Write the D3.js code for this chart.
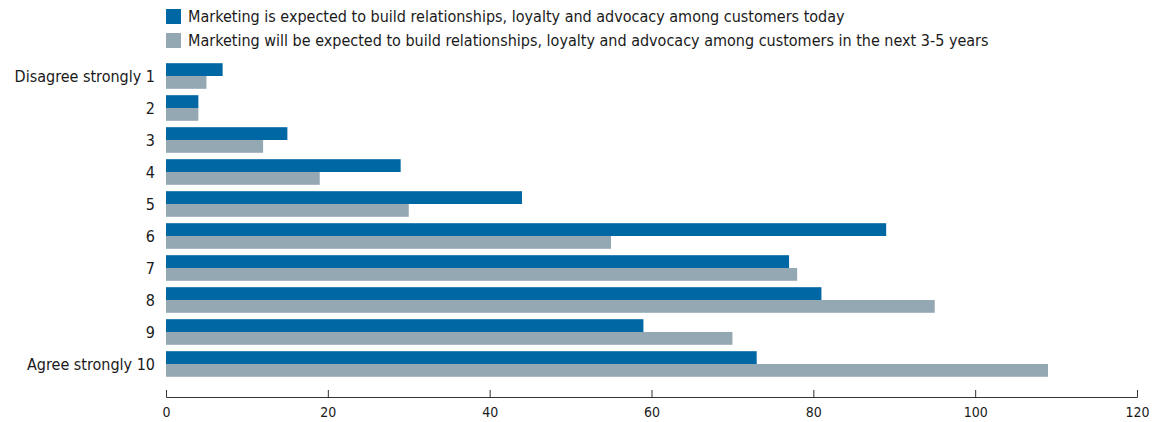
<!DOCTYPE html>
<html>
<head>
<meta charset="utf-8">
<script src="https://cdn.jsdelivr.net/npm/d3@7"></script>
<style>
  body { margin: 0; background: #fff; }
  svg text { font-family: 'DejaVu Sans Condensed', 'Liberation Sans Narrow', sans-serif; fill: #1a1a1a; }
</style>
</head>
<body>
<div id="chart"></div>
<script>
// Chart data
const categories = ['Disagree strongly 1', '2', '3', '4', '5', '6', '7', '8', '9', 'Agree strongly 10'];
const seriesNames = [
  'Marketing is expected to build relationships, loyalty and advocacy among customers today',
  'Marketing will be expected to build relationships, loyalty and advocacy among customers in the next 3-5 years'
];
const todayValues = [7, 4, 15, 29, 44, 89, 77, 81, 59, 73];
const futureValues = [5, 4, 12, 19, 30, 55, 78, 95, 70, 109];
const xTicks = [0, 20, 40, 60, 80, 100, 120];
const colors = ['#0067a5', '#94a8b3'];

const w = 1162;
const h = 422;

const svg = d3.select('#chart')
  .append('svg')
  .attr('width', w)
  .attr('height', h);

const rows = categories.map((c, i) => ({ cat: c, values: [todayValues[i], futureValues[i]] }));

const xscale = d3.scaleLinear().domain([0, 120]).range([166, 1137]);
const yscale = d3.scaleBand()
  .domain(categories)
  .range([60, 380])
  .paddingInner(0.2)
  .paddingOuter(0.1);
const inner = d3.scaleBand()
  .domain([0, 1])
  .range([0, yscale.bandwidth()]);

// Bars
const groups = svg.selectAll('g.row')
  .data(rows)
  .enter()
  .append('g')
  .attr('class', 'row')
  .attr('transform', (d) => 'translate(0,' + yscale(d.cat) + ')');

groups.selectAll('rect')
  .data((d) => d.values)
  .enter()
  .append('rect')
  .attr('x', xscale(0))
  .attr('y', (d, i) => inner(i))
  .attr('width', (d) => xscale(d) - xscale(0))
  .attr('height', inner.bandwidth())
  .attr('fill', (d, i) => colors[i]);

// Category labels
svg.selectAll('text.cat')
  .data(categories)
  .enter()
  .append('text')
  .attr('class', 'cat')
  .attr('x', 155)
  .attr('y', (d) => yscale(d) + yscale.bandwidth() / 2)
  .attr('dy', '0.35em')
  .attr('text-anchor', 'end')
  .style('font-size', '16px')
  .text((d) => d);

// X axis, ticks pointing up
const xAxis = d3.axisBottom(xscale)
  .tickValues(xTicks)
  .tickSizeInner(-7)
  .tickSizeOuter(-7)
  .tickPadding(10);
const axisG = svg.append('g')
  .attr('transform', 'translate(0,397)')
  .call(xAxis);
axisG.selectAll('path, line').attr('stroke', '#333');
axisG.selectAll('text')
  .style('font-size', '14px')
  .attr('fill', '#1a1a1a');

// Legend
const legend = svg.selectAll('g.legend')
  .data(seriesNames)
  .enter()
  .append('g')
  .attr('class', 'legend')
  .attr('transform', (d, i) => 'translate(166,' + (9 + i * 24) + ')');
legend.append('rect')
  .attr('width', 15)
  .attr('height', 15)
  .attr('fill', (d, i) => colors[i]);
legend.append('text')
  .attr('x', 22)
  .attr('y', 7.5)
  .attr('dy', '0.35em')
  .style('font-size', '16px')
  .text((d) => d);
</script>
</body>
</html>
